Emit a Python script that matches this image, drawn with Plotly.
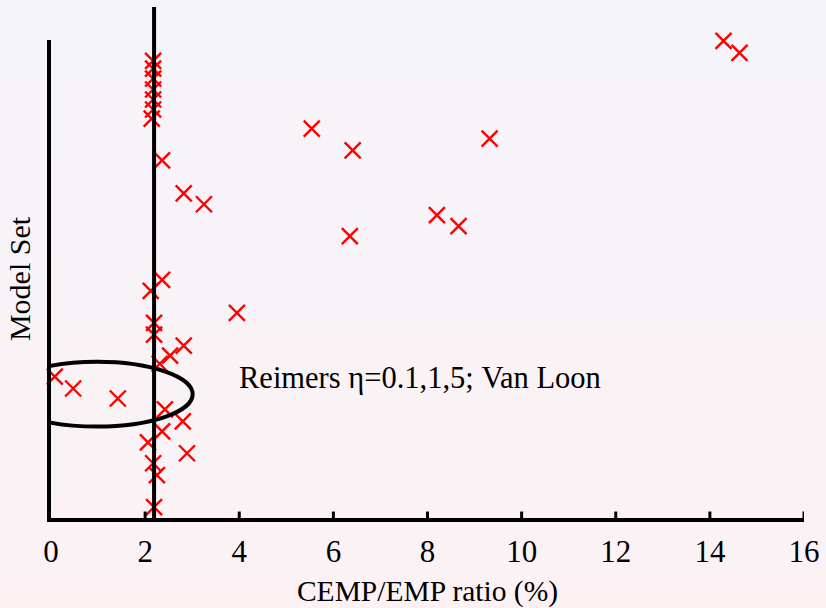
import plotly.graph_objects as go

# Data
ratio = [2.17, 2.17, 2.17, 2.17, 2.17, 2.17, 2.14,
         2.36, 2.82, 3.25, 5.54, 6.41, 6.35, 2.36, 2.12,
         14.29, 14.63, 9.32, 8.20, 8.66,
         3.95, 2.19, 2.19, 2.82, 2.53, 2.31,
         0.08, 0.47, 1.42,
         2.42, 2.80, 2.36, 2.06, 2.89, 2.17, 2.25, 2.19]
model_set = [96.0, 94.4, 92.3, 90.0, 87.9, 85.8, 83.9,
             75.1, 68.2, 65.9, 81.8, 77.2, 59.2, 50.0, 47.7,
             100.2, 97.7, 79.7, 63.6, 61.3,
             43.1, 41.0, 38.5, 36.2, 34.1, 32.4,
             29.7, 27.2, 25.1,
             22.8, 20.3, 18.2, 15.9, 13.6, 11.5, 9.0, 2.3]
x_ticks = [0, 2, 4, 6, 8, 10, 12, 14, 16]
vline_x = 2.19
ellipse_x = [-1.06, 3.01]
ellipse_y = [19.2, 32.8]
label_text = "Reimers η=0.1,1,5; Van Loon"
label_pos = [3.95, 29.5]

FONT = "Liberation Serif, Times New Roman, serif"

fig = go.Figure()
fig.add_trace(go.Scatter(
    x=ratio, y=model_set, mode="markers", cliponaxis=False,
    marker=dict(symbol="x-thin-open", size=16, color="red",
                line=dict(color="red", width=2.4)),
    showlegend=False, hoverinfo="skip"))

# background gradient bands
top = (245, 244, 249)
bot = (252, 242, 244)
n = 8
shapes = []
for i in range(n):
    t = i / (n - 1)
    c = tuple(round(top[k] + (bot[k] - top[k]) * t) for k in range(3))
    shapes.append(dict(type="rect", xref="paper", yref="paper",
                       x0=-0.1, x1=1.1,
                       y0=1.1 - (i + 1) * (1.4 / n), y1=1.1 - i * (1.4 / n),
                       fillcolor="rgb(%d,%d,%d)" % c, line=dict(width=0),
                       layer="below"))
shapes.append(dict(type="circle", xref="x", yref="y",
                   x0=ellipse_x[0], x1=ellipse_x[1],
                   y0=ellipse_y[0], y1=ellipse_y[1],
                   line=dict(color="black", width=4), layer="above"))
shapes.append(dict(type="line", xref="x", yref="paper",
                   x0=vline_x, x1=vline_x, y0=0, y1=1.069,
                   line=dict(color="black", width=4), layer="above"))
# inward tick stubs on the x axis
for t in x_ticks[1:]:
    shapes.append(dict(type="line", xref="x", yref="paper",
                       x0=t, x1=t, y0=0, y1=0.0135,
                       line=dict(color="black", width=3), layer="above"))

fig.update_layout(
    width=826, height=608,
    margin=dict(l=51, r=22, t=40, b=90, autoexpand=False),
    paper_bgcolor="rgb(249,243,246)",
    plot_bgcolor="rgba(0,0,0,0)",
    font=dict(family=FONT, color="black", size=27),
    shapes=shapes,
    annotations=[dict(x=label_pos[0], y=label_pos[1], xref="x", yref="y",
                      text=label_text, showarrow=False, xanchor="left",
                      yanchor="middle", font=dict(size=30.5, family=FONT))],
    xaxis=dict(range=[0, 16], tickmode="array", tickvals=x_ticks,
               ticks="", showline=True, linewidth=4,
               linecolor="black", showgrid=False, zeroline=False,
               automargin=False, layer="above traces",
               ticklabelstandoff=3,
               tickfont=dict(size=31, family=FONT),
               title=dict(text="CEMP/EMP ratio (%)", standoff=15,
                          font=dict(size=29.5, family=FONT))),
    yaxis=dict(range=[0, 100.4], showticklabels=False, ticks="",
               showline=True, linewidth=4, linecolor="black",
               showgrid=False, zeroline=False, automargin=False,
               title=dict(text="Model Set", standoff=9,
                          font=dict(size=30, family=FONT))),
)

fig.write_html("out.html")
